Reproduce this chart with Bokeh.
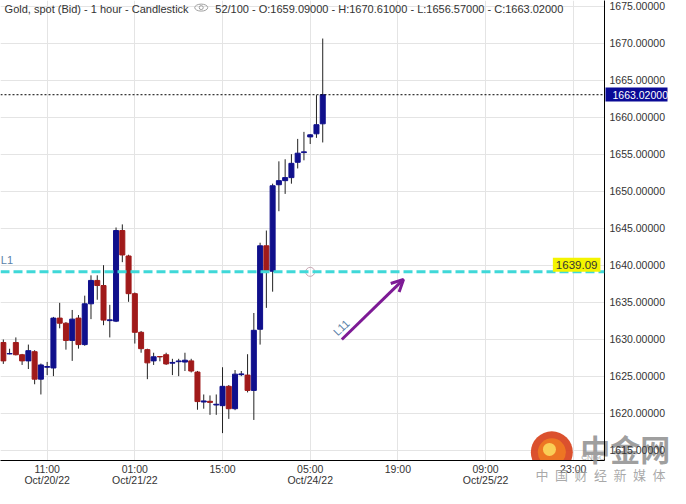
from bokeh.plotting import figure
from bokeh.models import (FixedTicker, PrintfTickFormatter, Span, Label, Arrow, OpenHead,
                          ColumnDataSource, LinearAxis)
from bokeh.embed import file_html
from bokeh.resources import INLINE

# ---- data ----
opens = [1629.54, 1628.00, 1629.54, 1627.89, 1627.06, 1628.30, 1624.59, 1626.20, 1626.10, 1632.84,
         1632.15, 1629.82, 1632.84, 1629.26, 1634.77, 1637.93, 1637.24, 1632.50, 1632.43, 1644.67,
         1641.23, 1636.14, 1630.92, 1628.58, 1627.06, 1627.65, 1627.89, 1626.75, 1626.95, 1626.90,
         1627.06, 1625.55, 1621.50, 1621.60, 1621.10, 1621.01, 1623.62, 1620.60, 1625.20, 1625.14,
         1623.07, 1631.33, 1642.61, 1639.17, 1650.86, 1651.41, 1651.82, 1653.89, 1655.20, 1657.32,
         1657.74, 1659.09]
highs = [1629.95, 1628.70, 1630.23, 1628.00, 1629.26, 1628.50, 1626.70, 1626.92, 1633.00, 1634.90,
         1632.30, 1633.94, 1633.25, 1635.87, 1638.62, 1638.62, 1639.99, 1634.63, 1645.08, 1645.50,
         1641.40, 1636.30, 1631.10, 1628.70, 1628.16, 1627.70, 1628.16, 1627.34, 1627.34, 1628.16,
         1627.34, 1625.70, 1622.52, 1622.39, 1622.52, 1626.20, 1623.80, 1625.82, 1625.69, 1627.96,
         1633.53, 1643.02, 1644.67, 1651.00, 1654.02, 1654.30, 1654.99, 1657.05, 1658.00, 1657.70,
         1662.96, 1670.61]
lows = [1626.65, 1627.95, 1627.80, 1626.51, 1625.96, 1623.90, 1622.52, 1625.14, 1625.00, 1631.46,
        1628.58, 1627.06, 1628.71, 1629.10, 1632.70, 1635.32, 1631.88, 1630.23, 1632.30, 1640.40,
        1635.04, 1629.40, 1628.16, 1624.59, 1626.51, 1627.00, 1626.51, 1625.14, 1625.00, 1625.69,
        1625.50, 1620.46, 1620.60, 1619.77, 1619.77, 1617.30, 1619.22, 1620.40, 1625.00, 1622.80,
        1619.08, 1629.26, 1634.22, 1636.41, 1647.28, 1649.62, 1651.00, 1653.06, 1654.16, 1656.36,
        1657.19, 1656.57]
closes = [1627.06, 1628.05, 1627.89, 1627.06, 1628.44, 1624.59, 1626.51, 1626.30, 1632.84, 1632.15,
          1629.82, 1632.70, 1629.26, 1634.77, 1637.93, 1637.24, 1632.57, 1632.60, 1644.67, 1641.37,
          1636.14, 1630.92, 1628.71, 1626.79, 1627.61, 1627.60, 1626.65, 1626.85, 1627.05, 1627.15,
          1625.69, 1621.56, 1621.65, 1621.45, 1621.20, 1623.62, 1620.60, 1625.27, 1625.30, 1623.07,
          1631.19, 1642.61, 1639.17, 1650.72, 1651.41, 1651.82, 1653.75, 1655.12, 1655.30, 1657.60,
          1658.97, 1663.02]

time_ticks = [7, 21, 35, 49, 63, 77, 91]
time_labels = ["11:00", "01:00", "15:00", "05:00", "19:00", "09:00", "23:00"]
date_ticks = [7, 21, 49, 77]
date_labels = ["Oct/20/22", "Oct/21/22", "Oct/24/22", "Oct/25/22"]
price_ticks = [1610, 1615, 1620, 1625, 1630, 1635, 1640, 1645, 1650, 1655, 1660, 1665, 1670, 1675]

last_price = 1663.02
l1_level = 1639.09
l1_anchor = 49
arrow_start = (54.05, 1629.95)
arrow_end = (63.9, 1638.07)

title_left = "Gold, spot (Bid) - 1 hour - Candlestick"
title_right = "52/100 - O:1659.09000 - H:1670.61000 - L:1656.57000 - C:1663.02000"
wm_big = "\u3000\u3000中金网"
wm_small = "CNGOLD.ORG"
wm_line = "\u2002".join("中国财经新媒体")

BLUE = "#10108c"
RED = "#a01a1a"
NAVY_TAG = "#0a0a96"
FONT = "Liberation Sans"

X0, X1 = -0.45, 95.99
Y0, Y1 = 1613.6, 1675.75

idx = list(range(len(opens)))
colors = [BLUE if c >= o else RED for o, c in zip(opens, closes)]
src = ColumnDataSource(dict(x=idx, o=opens, h=highs, l=lows, c=closes,
                            top=[max(o, c) for o, c in zip(opens, closes)],
                            bot=[min(o, c) for o, c in zip(opens, closes)],
                            color=colors))

p = figure(width=670, height=488, x_range=(X0, X1), y_range=(Y0, Y1),
           y_axis_location="right", toolbar_location=None, output_backend="svg",
           min_border_left=0, min_border_top=0, min_border_right=62, min_border_bottom=24)
p.outline_line_color = None
p.background_fill_color = "white"

xax = p.xaxis[0]
yax = p.yaxis[0]

yax.ticker = FixedTicker(ticks=price_ticks)
yax.formatter = PrintfTickFormatter(format="%.5f")
xax.ticker = FixedTicker(ticks=time_ticks)
xax.major_label_overrides = {t: s for t, s in zip(time_ticks, time_labels)}
for ax in (xax, yax):
    ax.axis_label = None
    ax.axis_line_color = "black"
    ax.axis_line_width = 1
    ax.major_tick_out = 0
    ax.major_tick_in = 0
    ax.minor_tick_out = 0
    ax.minor_tick_in = 0
    ax.major_label_text_font = FONT
    ax.major_label_text_font_size = "10.5px"
    ax.major_label_text_color = "#333333"
yax.major_label_standoff = 5
xax.major_label_standoff = 2
p.xgrid.ticker = FixedTicker(ticks=time_ticks)
p.ygrid.ticker = FixedTicker(ticks=price_ticks)
p.xgrid.grid_line_color = "#e4e4e4"
p.ygrid.grid_line_color = "#e4e4e4"


def bare_axis(ticks, **kw):
    ax = LinearAxis(ticker=FixedTicker(ticks=ticks), axis_label=None,
                    axis_line_color=None, major_tick_line_color=None,
                    minor_tick_line_color=None, major_tick_in=0, major_tick_out=0,
                    minor_tick_in=0, minor_tick_out=0)
    for k, v in kw.items():
        setattr(ax, k, v)
    return ax


# second line of the time scale: dates
p.add_layout(bare_axis(date_ticks, major_label_overrides=dict(zip(date_ticks, date_labels)),
                       major_label_standoff=-4, major_label_text_font=FONT,
                       major_label_text_font_size="10.5px", major_label_text_color="#333333"),
             "below")

# candles
p.segment(x0="x", y0="h", x1="x", y1="l", source=src, line_color="#222222", line_width=1)
p.vbar(x="x", top="top", bottom="bot", width=0.8, source=src,
       fill_color="color", line_color="color", line_width=1)

# last price line
p.add_layout(Span(location=last_price, dimension="width", line_color="black",
                  line_dash="2 2", line_width=1))

# last price tag over the price scale: a thick navy inward tick + white label
p.add_layout(bare_axis([last_price], major_tick_line_color=NAVY_TAG, major_tick_line_width=14,
                       major_tick_in=62, major_label_standoff=0,
                       major_label_overrides={last_price: ""}), "right")
p.add_layout(bare_axis([last_price], formatter=PrintfTickFormatter(format="%.5f"),
                       major_label_standoff=-55, major_label_text_font=FONT,
                       major_label_text_font_size="10.5px", major_label_text_color="white"),
             "right")

# L1 line
p.add_layout(Span(location=l1_level, dimension="width", line_color="#3fd8d8",
                  line_dash="9 4", line_width=3))
p.add_layout(Label(x=-0.4, y=l1_level + 0.75, text="L1", text_baseline="bottom",
                   text_font=FONT, text_font_size="11px", text_color="#5b82a8"))
p.add_layout(Label(x=X1 - 0.65, y=l1_level + 0.95, text=f"{l1_level:.2f}", text_align="right",
                   text_baseline="middle", text_font=FONT, text_font_size="11.5px",
                   text_color="#333333", background_fill_color="#f4f400", padding=3))
p.scatter(x=[l1_anchor], y=[l1_level], size=9, fill_color=None, line_color="#c8a8b4", line_width=1)

# arrow L11
PURPLE = "#7d1a95"
p.add_layout(Arrow(end=OpenHead(size=12, line_color=PURPLE, line_width=3),
                   x_start=arrow_start[0], y_start=arrow_start[1],
                   x_end=arrow_end[0], y_end=arrow_end[1],
                   line_color=PURPLE, line_width=3))
p.add_layout(Label(x=arrow_start[0] - 0.1, y=arrow_start[1] + 1.6, text="L11", angle=44,
                   angle_units="deg", text_align="center", text_baseline="middle",
                   text_font=FONT, text_font_size="11px", text_color="#5b82a8"))

# header
p.add_layout(Label(x=0.2, y=Y1 - 0.28, text=title_left, text_baseline="top",
                   text_font=FONT, text_font_size="11px", text_color="#333333"))
p.ellipse(x=[31.6], y=[Y1 - 0.96], width=13, height=7, width_units="screen", height_units="screen",
          fill_color=None, line_color="#a0a0a0", line_width=1)
p.scatter(x=[31.6], y=[Y1 - 0.96], size=4, fill_color=None, line_color="#a0a0a0")
p.add_layout(Label(x=33.85, y=Y1 - 0.28, text=title_right, text_baseline="top",
                   text_font=FONT, text_font_size="11px", text_color="#333333"))

# watermark logo
p.scatter(x=[87.58], y=[1614.7], size=42, fill_color="#d8421c", line_color=None, fill_alpha=0.92)
p.scatter(x=[87.58], y=[1614.7], size=28, fill_color="#ee7a22", line_color=None, fill_alpha=0.9)
p.scatter(x=[87.2], y=[1615.1], size=13, fill_color="#fbd35a", line_color=None, fill_alpha=0.95)
p.add_layout(Label(x=92.27, y=1613.95, text=wm_small, text_baseline="middle",
                   text_font=FONT, text_font_size="8px", text_color="#aaaaaa"))

# watermark texts that reach past the frame (axis labels pulled back up)
wm_line_x = 95.34
p.add_layout(bare_axis([wm_line_x], major_label_overrides={wm_line_x: wm_line},
                       major_label_standoff=-24, major_label_text_font="Noto Sans CJK SC",
                       major_label_text_font_size="13px", major_label_text_color="#9a9a9a",
                       major_label_text_alpha=0.85), "below")
wm_big_x = 94.53
p.add_layout(bare_axis([wm_big_x], major_label_overrides={wm_big_x: wm_big},
                       major_label_standoff=-63, major_label_text_font="Noto Sans CJK SC",
                       major_label_text_font_size="30px", major_label_text_font_style="bold",
                       major_label_text_color="#8e8e8e", major_label_text_alpha=0.85), "below")

open("out.html", "w").write(file_html(p, INLINE))
